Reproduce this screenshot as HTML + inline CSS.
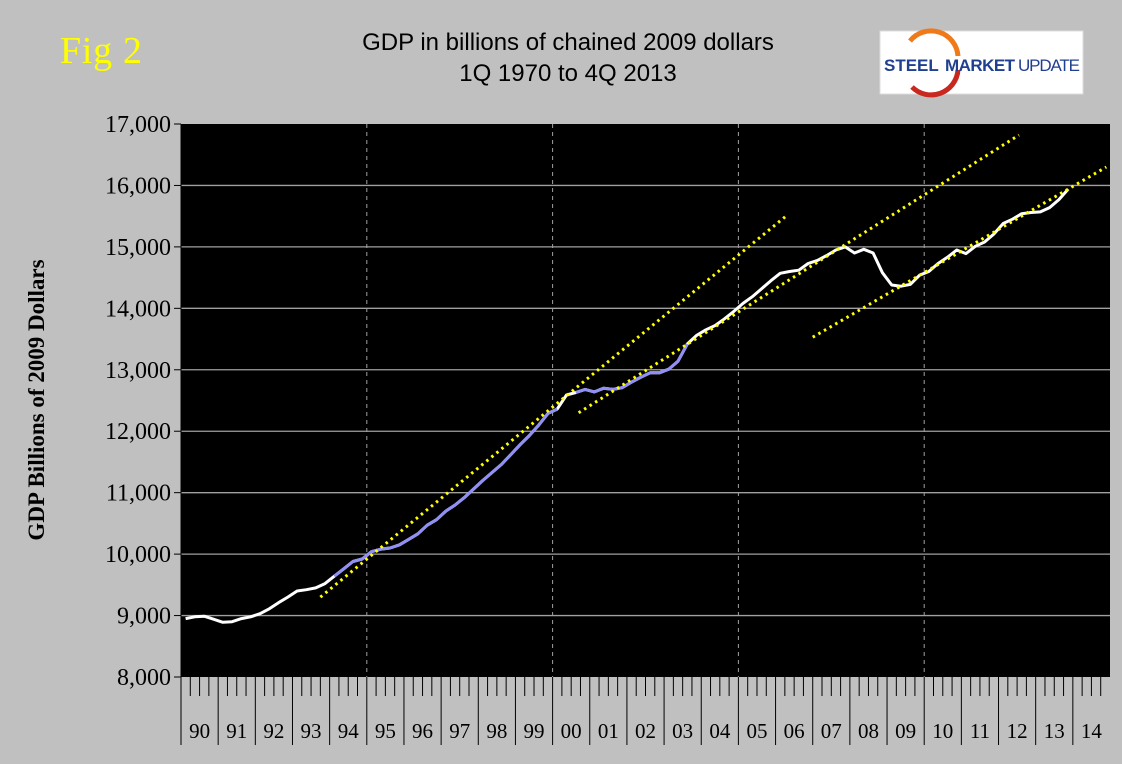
<!DOCTYPE html>
<html><head><meta charset="utf-8"><style>
html,body{margin:0;padding:0;background:#c0c0c0;width:1122px;height:764px;overflow:hidden}
svg{display:block}
</style></head><body>
<svg id="chart" width="1122" height="764" xmlns="http://www.w3.org/2000/svg">
<rect width="1122" height="764" fill="#c0c0c0"/>
<text x="60" y="63" font-family="Liberation Serif, serif" font-size="38" fill="#ffff00" textLength="82">Fig 2</text>
<text x="568" y="50" text-anchor="middle" font-family="Liberation Sans, sans-serif" font-size="24" fill="#000">GDP in billions of chained 2009 dollars</text>
<text x="568" y="81" text-anchor="middle" font-family="Liberation Sans, sans-serif" font-size="24" fill="#000">1Q 1970 to 4Q 2013</text>
<g>
<rect x="880" y="31" width="203" height="63" fill="#fff" stroke="#ddd"/>
<path d="M910,41 A27,27 0 0 1 958,56" fill="none" stroke="#f07a1a" stroke-width="5"/>
<path d="M958,70 A27,27 0 0 1 912,87" fill="none" stroke="#c8281e" stroke-width="5"/>
<text x="884" y="71" font-family="Liberation Sans, sans-serif" font-size="17" font-weight="bold" fill="#1f3f8f">STEEL</text>
<text x="945" y="71" font-family="Liberation Sans, sans-serif" font-size="17" font-weight="bold" fill="#1f3f8f" textLength="70">MARKET</text>
<text x="1018" y="71" font-family="Liberation Sans, sans-serif" font-size="17" fill="#1f3f8f" textLength="62">UPDATE</text>
</g>
<text transform="translate(44,400) rotate(-90)" text-anchor="middle" font-family="Liberation Serif, serif" font-size="23" font-weight="bold" fill="#000">GDP Billions of 2009 Dollars</text>
<rect x="181" y="124" width="929" height="553" fill="#000"/>
<g id="grid"></g><g id="axes"></g><g id="series"></g><g id="trends"></g>
</svg>
<script>
const yTicks=[8000,9000,10000,11000,12000,13000,14000,15000,16000,17000];
const yearLabels=["90","91","92","93","94","95","96","97","98","99","00","01","02","03","04","05","06","07","08","09","10","11","12","13","14"];
const gdp=[8950,8980,8990,8940, 8890,8900,8950,8980, 9030,9110,9210,9300, 9400,9420,9450,9520,
9640,9760,9880,9920, 10040,10080,10100,10150, 10240,10330,10470,10560, 10700,10800,10920,11060,
11200,11330,11460,11620, 11780,11930,12100,12290, 12360,12590,12630,12680, 12640,12700,12680,12710,
12800,12880,12950,12950, 13010,13140,13420,13560, 13650,13720,13830,13950, 14080,14190,14320,14450,
14570,14600,14620,14730, 14780,14860,14950,15000, 14900,14960,14900,14580, 14380,14360,14390,14540,
14600,14730,14830,14950, 14890,15010,15080,15210, 15380,15450,15540,15560, 15570,15640,15770,15940];
const purpleRanges=[[16,40],[42,54]];
const trendStartYear=[1993.75,2000.7,2007.0];
const trendStartVal=[9300,12300,13530];
const trendEndYear=[2006.32,2012.55,2014.9];
const trendEndVal=[15520,16820,16300];

const NS="http://www.w3.org/2000/svg";
const X0=181,X1=1110,Y0=677,Y1=124;
const xs=yr=>X0+(yr-1990)/25*(X1-X0);
const ys=v=>Y0-(v-8000)/9000*(Y0-Y1);
function mk(tag,attrs,parent){const e=document.createElementNS(NS,tag);for(const k in attrs)e.setAttribute(k,attrs[k]);parent.appendChild(e);return e;}
const grid=document.getElementById('grid'),axes=document.getElementById('axes'),series=document.getElementById('series'),trends=document.getElementById('trends');
yTicks.forEach(v=>{
  const y=ys(v);
  if(v>8000&&v<17000){const l=mk('line',{x1:X0,x2:X1,y1:y,y2:y,stroke:'#a0a0a0','stroke-width':1.3},grid);
  
  }
  const t=mk('line',{x1:X0-7,x2:X0,y1:y,y2:y,stroke:'#000'},axes);
  
  
  const tx=mk('text',{x:171,y:y+8,'text-anchor':'end','font-family':'Liberation Serif, serif','font-size':24,fill:'#000'},axes);
  tx.textContent=v.toLocaleString('en-US');
  
  
});
for(let y=1995;y<=2010;y+=5){const l=mk('line',{x1:xs(y),x2:xs(y),y1:Y1,y2:Y0,stroke:'#a0a0a0','stroke-dasharray':'4,4'},grid);

}
mk('line',{x1:X0,x2:X0,y1:Y1,y2:Y0,stroke:'#000'},axes);
yearLabels.forEach((lab,i)=>{
  for(let q=0;q<4;q++){const x=xs(1990+i+q/4);
    const t=mk('line',{x1:x,x2:x,y1:Y0,y2:q==0?745:696,stroke:'#000','stroke-width':1},axes);
    
    }
  const tx=mk('text',{x:xs(1990+i+0.5),y:738,'text-anchor':'middle','font-family':'Liberation Serif, serif','font-size':21,fill:'#000'},axes);
  tx.textContent=lab;
  
  
});
const px=i=>xs(1990+i/4+0.125), py=i=>ys(gdp[i]);
function seg(a,b,color,name){let d='';for(let i=a;i<=b;i++)d+=(i==a?'M':'L')+px(i).toFixed(1)+','+py(i).toFixed(1);
  const p=mk('path',{d:d,fill:'none',stroke:color,'stroke-width':3,'stroke-linejoin':'round'},series);
  
  }
seg(0,gdp.length-1,'#ffffff','gdp-line');
purpleRanges.forEach(r=>seg(r[0],r[1],'#8f8ff5','gdp-line-highlight'));
trendStartYear.forEach((s,i)=>{
  const l=mk('line',{x1:xs(s),y1:ys(trendStartVal[i]),x2:xs(trendEndYear[i]),y2:ys(trendEndVal[i]),stroke:'#ffff00','stroke-width':3,'stroke-dasharray':'2.5,4'},trends);
  
  
});
</script>
</body></html>
